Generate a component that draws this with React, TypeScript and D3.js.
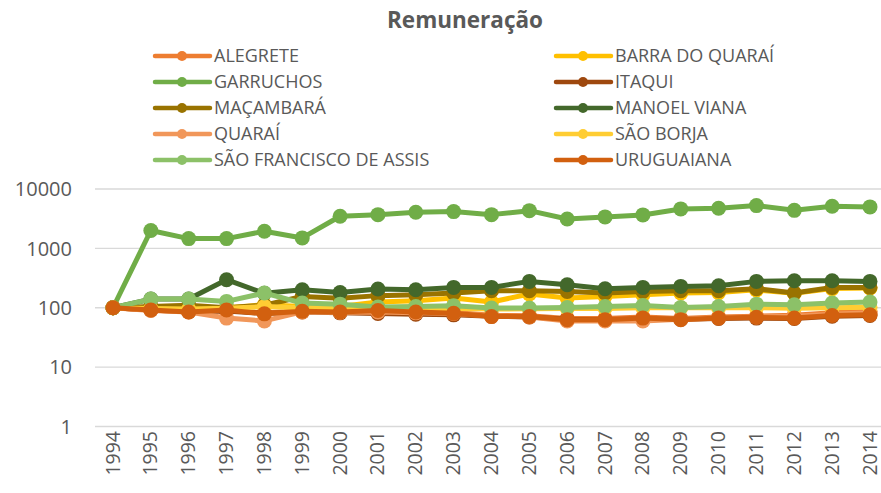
import React from 'react';
import * as d3 from 'd3';

const years = d3.range(1994, 2015).map(String);

const alegrete = [100, 92, 88, 90, 82, 88, 86, 88, 86, 83, 75, 73, 66, 66, 70, 66, 70, 72, 75, 82, 87];
const barraDoQuarai = [100, 100, 100, 100, 112, 105, 105, 125, 131, 146, 125, 170, 146, 155, 166, 177, 180, 200, 175, 210, 215];
const garruchos = [100, 2000, 1460, 1460, 1940, 1500, 3470, 3700, 4050, 4160, 3700, 4320, 3130, 3390, 3660, 4620, 4730, 5250, 4370, 5120, 4990];
const itaqui = [100, 92, 86, 88, 80, 85, 82, 80, 78, 76, 72, 70, 64, 62, 64, 64, 66, 67, 66, 72, 74];
const macambara = [100, 105, 110, 100, 110, 155, 145, 160, 165, 177, 193, 193, 188, 177, 188, 193, 193, 209, 177, 220, 220];
const manoelViana = [100, 140, 140, 297, 175, 201, 181, 207, 201, 220, 220, 278, 244, 209, 220, 229, 235, 278, 285, 285, 278];
const quarai = [100, 90, 85, 67, 60, 85, 84, 85, 82, 80, 73, 70, 60, 60, 60, 64, 68, 70, 72, 78, 82];
const saoBorja = [100, 97, 95, 98, 105, 100, 100, 100, 98, 97, 95, 96, 97, 97, 100, 100, 100, 100, 98, 100, 102];
const saoFrancisco = [100, 140, 140, 128, 177, 120, 115, 103, 105, 108, 99, 99, 101, 105, 109, 101, 105, 115, 112, 120, 125];
const uruguaiana = [100, 92, 85, 92, 79, 87, 85, 90, 85, 81, 71, 71, 63, 63, 67, 63, 67, 69, 67, 74, 76];

const yTicks = [1, 10, 100, 1000, 10000];

const series = [
  { name: 'ALEGRETE', color: '#ED7D31', values: alegrete },
  { name: 'BARRA DO QUARAÍ', color: '#FFC000', values: barraDoQuarai },
  { name: 'GARRUCHOS', color: '#70AD47', values: garruchos },
  { name: 'ITAQUI', color: '#9E480E', values: itaqui },
  { name: 'MAÇAMBARÁ', color: '#997300', values: macambara },
  { name: 'MANOEL VIANA', color: '#43682B', values: manoelViana },
  { name: 'QUARAÍ', color: '#F1975A', values: quarai },
  { name: 'SÃO BORJA', color: '#FFCD33', values: saoBorja },
  { name: 'SÃO FRANCISCO DE ASSIS', color: '#8CC168', values: saoFrancisco },
  { name: 'URUGUAIANA', color: '#D2600F', values: uruguaiana },
];

const W = 881;
const H = 493;
const font = "'Open Sans', sans-serif";
const textColor = '#595959';

export default function App() {
  const x = d3.scalePoint<string>().domain(years).range([113, 870]);
  const y = d3.scaleLog().domain([1, 10000]).range([426.5, 189]);

  const line = d3
    .line<number>()
    .x((d, i) => x(years[i]) as number)
    .y((d) => y(d));

  return (
    <svg
      width={W}
      height={H}
      style={{ position: 'absolute', left: 0, top: 0, background: '#fff' }}
      fontFamily={font}
    >
      <text x={465} y={28} textAnchor="middle" fontSize={22.5} fontWeight="bold" fill={textColor}>
        Remuneração
      </text>

      {/* legend, two columns */}
      {series.map((s, i) => {
        const col = i % 2;
        const row = Math.floor(i / 2);
        const lx = col === 0 ? 155 : 556;
        const ly = 56 + row * 26;
        return (
          <g key={s.name}>
            <line x1={lx} x2={lx + 55} y1={ly} y2={ly} stroke={s.color} strokeWidth={4.5} strokeLinecap="round" />
            <circle cx={lx + 27} cy={ly} r={5} fill={s.color} />
            <text x={lx + 59} y={ly} dy="0.36em" fontSize={18} fill={textColor}>
              {s.name}
            </text>
          </g>
        );
      })}

      {/* gridlines + y labels */}
      {yTicks.map((t) => (
        <g key={t}>
          <line x1={95} x2={W} y1={y(t)} y2={y(t)} stroke="#d9d9d9" strokeWidth={1.3} />
          <text x={72} y={y(t)} dy="0.36em" textAnchor="end" fontSize={20} fill={textColor}>
            {t}
          </text>
        </g>
      ))}

      {/* x labels */}
      {years.map((yr) => (
        <text
          key={yr}
          transform={`translate(${(x(yr) as number) + 6.5},431) rotate(-90)`}
          textAnchor="end"
          fontSize={19.5}
          fill={textColor}
        >
          {yr}
        </text>
      ))}

      {/* series */}
      {series.map((s) => (
        <g key={s.name}>
          <path d={line(s.values) || ''} fill="none" stroke={s.color} strokeWidth={5} strokeLinejoin="round" />
          {s.values.map((v, i) => (
            <circle key={i} cx={x(years[i])} cy={y(v)} r={7.5} fill={s.color} />
          ))}
        </g>
      ))}
    </svg>
  );
}
